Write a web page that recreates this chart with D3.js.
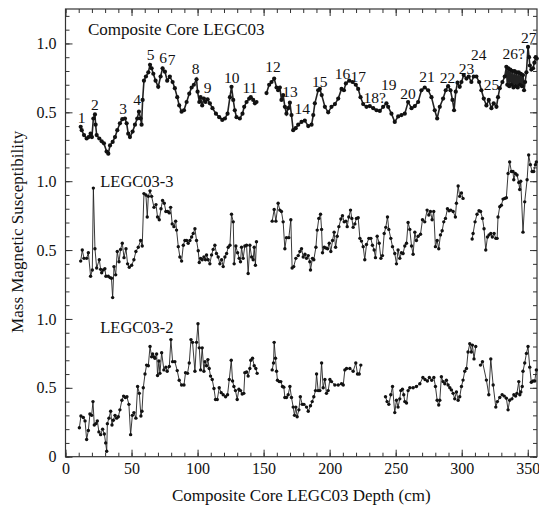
<!DOCTYPE html>
<html>
<head>
<meta charset="utf-8">
<script src="https://cdn.jsdelivr.net/npm/d3@7"></script>
<style>
  html, body { margin: 0; padding: 0; background: #fff; }
  svg { display: block; }
</style>
</head>
<body>
<svg id="chart" width="539" height="507"></svg>
<script>
// Depth (cm) and mass magnetic susceptibility; null marks a break in the record.
const compositeCore = [
  [11.5,0.395],[12.3,0.37],[14,0.335],[16,0.31],[17.5,0.32],[19,0.345],[20,0.32],[21.1,0.455],[22.3,0.485],[22.8,0.41],
  [23.6,0.335],[25.6,0.31],[27.4,0.29],[29.1,0.275],[31.1,0.215],[32.4,0.20],[33.7,0.26],[35.7,0.285],[37.5,0.32],[39.2,0.37],
  [41.2,0.42],[43,0.45],[45,0.455],[46.3,0.42],[47.5,0.345],[48.8,0.32],[50.8,0.36],[52.6,0.41],[54.3,0.455],[55.6,0.505],
  [56.9,0.455],[57.6,0.41],[58.4,0.59],[59.4,0.73],[60.9,0.76],[62.7,0.79],[64,0.845],[65.2,0.82],[66.5,0.78],[68.2,0.73],
  [70.2,0.685],[72,0.76],[73.5,0.82],[75.3,0.795],[77,0.73],[79,0.76],[81.1,0.72],[82.8,0.675],[84.6,0.61],[86.1,0.55],
  [87.9,0.505],[89.7,0.515],[91.7,0.575],[93.7,0.635],[95.5,0.68],[97.2,0.70],[99.2,0.74],[100,0.65],[101.3,0.575],[102.3,0.61],
  [103.5,0.55],[104.8,0.60],[106,0.575],[107.6,0.595],[109.3,0.565],[111.3,0.53],[113.9,0.49],[116.4,0.465],[118.7,0.445],[120.7,0.455],
  [122.7,0.49],[124.5,0.61],[125.7,0.685],[127,0.59],[128.2,0.515],[129.5,0.465],[132,0.455],[134,0.49],[135.3,0.54],[137.1,0.575],
  [139.1,0.60],[140.3,0.61],[142.1,0.59],[143.4,0.565],[144.6,0.575],
  [148,null],
  [152.2,0.64],[154.2,0.70],[156,0.72],[158,0.745],[159.8,0.68],[161,0.66],[162.3,0.68],[163.5,0.59],[164.8,0.625],[166.1,0.54],
  [167.3,0.49],[168.6,0.53],[169.9,0.57],[171.1,0.48],[172.4,0.37],[174.3,0.385],[176.2,0.41],[178.7,0.43],[181.2,0.44],[183.8,0.40],
  [186.3,0.41],[187.6,0.48],[188.8,0.565],[191.3,0.66],[192.6,0.67],[194,0.625],[196.4,0.54],[198.9,0.50],[201.4,0.54],[204,0.56],
  [206.5,0.60],[209,0.67],[210.8,0.66],[212.3,0.71],[214.8,0.73],[217.3,0.72],[219.8,0.70],[221.6,0.67],[223.4,0.61],[225.4,0.56],
  [227.9,0.54],[230.4,0.545],[233,0.53],[235.5,0.515],[238,0.51],[240.5,0.54],[243,0.565],[244.3,0.54],[246.8,0.49],[249.3,0.43],
  [251.9,0.47],[254.4,0.48],[256.9,0.49],[259.4,0.575],[262,0.53],[264.5,0.545],[267,0.575],[269.5,0.66],[272,0.68],[274.6,0.66],
  [277.1,0.61],[279.6,0.515],[281.4,0.455],[283.4,0.54],[285.9,0.60],[287.9,0.66],[289.7,0.69],[291.5,0.66],[293,0.59],[294.2,0.515],
  [295.5,0.65],[296.8,0.715],[298.5,0.685],[299.8,0.72],[301.5,0.77],[303.6,0.745],[305.3,0.76],[307.3,0.72],[309.1,0.76],[311.1,0.76],
  [313.2,0.72],[314.9,0.66],[316.7,0.60],[318.7,0.55],[320.5,0.59],[322.5,0.53],[324.2,0.565],[326.3,0.54],[327.5,0.61],[328.8,0.675],
  [330.8,0.72],[332.6,0.76],[333.8,0.83],[334.5,0.70],[335.3,0.82],[336,0.69],[336.8,0.81],[337.6,0.70],[338.4,0.80],[339.2,0.68],
  [340,0.80],[340.8,0.69],[341.6,0.79],[342.4,0.68],[343.2,0.79],[344,0.70],[344.8,0.78],[345.6,0.69],[346.4,0.77],[347.2,0.66],
  [348,0.72],[349,0.79],[350.2,0.975],[351,0.90],[351.6,0.84],[352.7,0.81],[354,0.82],[355,0.86],[356,0.90],[356.8,0.89]
];

const coreLEGC03_3 = [
  [11.5,0.42],[12.7,0.50],[14,0.44],[16,0.44],[17.3,0.48],[19,0.31],[20.3,0.355],[21.1,0.95],[22.3,0.51],[23.6,0.37],
  [25.6,0.43],[26.6,0.36],[27.4,0.335],[28.6,0.355],[29.8,0.365],[30.6,0.31],[32.4,0.31],[33.7,0.30],[34.8,0.295],[35.7,0.155],
  [36.7,0.38],[38,0.32],[39.2,0.49],[40.5,0.415],[41.7,0.505],[43,0.55],[44.3,0.445],[45.8,0.51],[47,0.40],[48.3,0.375],
  [50.1,0.39],[51.8,0.43],[53.3,0.49],[55.1,0.52],[56.9,0.57],[58.1,0.53],[59.4,0.91],[60.9,0.90],[61.9,0.74],[62.7,0.89],
  [64,0.93],[65.2,0.89],[67,0.81],[68.5,0.83],[69.7,0.74],[71,0.72],[72.3,0.80],[73.5,0.86],[74.8,0.84],[76,0.78],
  [77.3,0.78],[78.6,0.77],[79.6,0.81],[80.8,0.69],[82.1,0.67],[83.4,0.71],[84.1,0.645],[85.4,0.525],[86.6,0.45],[87.9,0.42],
  [89.2,0.535],[90.4,0.57],[91.7,0.57],[92.9,0.55],[94.2,0.57],[95.5,0.595],[96.7,0.62],[98,0.655],[99.2,0.57],[100.5,0.495],
  [101.3,0.41],[102.3,0.44],[103.5,0.43],[104.8,0.45],[106,0.43],[106.8,0.465],[108,0.43],[109.3,0.40],[110.6,0.465],[111.8,0.505],
  [113.1,0.535],[114.3,0.475],[115.6,0.45],[116.9,0.40],[118.2,0.43],[119.4,0.38],[120.7,0.45],[122,0.475],[123.2,0.52],[124.5,0.535],
  [125.7,0.76],[127,0.705],[127.7,0.40],[129,0.53],[130.3,0.48],[131.5,0.44],[132.5,0.415],[133.3,0.52],[134.5,0.44],[135.8,0.53],
  [137.1,0.535],[138.3,0.33],[139.6,0.535],[140.9,0.45],[142.1,0.43],[142.9,0.52],[143.8,0.39],[144.6,0.56],
  [150,null],
  [156.5,0.71],[158,0.795],[159.3,0.71],[161,0.84],[162.3,0.79],[163.5,0.78],[164.8,0.705],[166.1,0.51],[167.3,0.59],[169.1,0.59],
  [170.6,0.72],[171.6,0.37],[172.8,0.38],[174.4,0.44],[176.2,0.46],[177.5,0.49],[178.7,0.51],[180,0.45],[181.3,0.47],[182.5,0.44],
  [183.8,0.46],[185,0.415],[185.5,0.355],[187,0.44],[188,0.43],[189.6,0.52],[190.6,0.645],[191.8,0.73],[193.1,0.76],[193.9,0.65],
  [194.6,0.48],[195.9,0.52],[197.1,0.515],[198.4,0.51],[199.7,0.55],[200.9,0.49],[202.2,0.57],[203.4,0.63],[204.5,0.52],[205.7,0.60],
  [207,0.67],[208.5,0.725],[209.7,0.75],[211,0.705],[212.3,0.71],[213.3,0.67],[214.5,0.74],[215.8,0.79],[216.8,0.73],[217.8,0.665],
  [219.1,0.69],[220.3,0.73],[221.6,0.735],[222.9,0.585],[224.1,0.565],[225.4,0.525],[226.6,0.43],[227.9,0.54],[229.7,0.585],[231.2,0.585],
  [232.4,0.535],[233.7,0.50],[234.7,0.445],[236,0.60],[237.5,0.55],[238.8,0.44],[240,0.46],[241.3,0.62],[242.5,0.665],[243.8,0.74],
  [244.8,0.65],[246.3,0.585],[247.6,0.525],[249.3,0.475],[250.6,0.40],[251.8,0.50],[253.1,0.44],[254.4,0.48],[255.6,0.475],[256.9,0.53],
  [258.2,0.55],[259.4,0.70],[260.7,0.65],[262,0.53],[263.2,0.47],[264.5,0.63],[265.7,0.57],[267,0.60],[268.8,0.615],[270.3,0.72],
  [272,0.705],[273.8,0.79],[275.1,0.755],[276.3,0.78],[277.6,0.72],[278.8,0.78],[280.1,0.525],[281.4,0.57],[282.6,0.51],[283.9,0.61],
  [285.2,0.64],[286.4,0.705],[287.7,0.73],[289.2,0.80],[290.4,0.785],[291.7,0.79],[293.5,0.78],[295.2,0.74],[296,0.84],[297.3,0.965],
  [298.5,0.89],[299.8,0.915],[301,0.875],
  [304,null],
  [307.9,0.58],[308.6,0.62],[310.1,0.705],[311.6,0.76],[313.1,0.785],[314.3,0.78],[315.7,0.73],[316.9,0.655],[318.2,0.50],[319.5,0.595],
  [320.7,0.61],[322,0.62],[323.2,0.595],[324.5,0.62],[325.8,0.585],[326.8,0.585],[327.5,0.74],[328.8,0.815],[330,0.825],[331.3,0.87],
  [332.5,0.875],[333.8,0.88],[335.1,1.056],[336.3,1.14],[337.6,1.07],[338.8,1.07],[339.4,1.01],[340.6,1.056],[341.9,1.045],[343.2,0.99],
  [343.9,0.94],[344.7,1.0],[346.4,0.63],[347.7,0.85],[349.5,1.01],[350.7,1.19],[352,1.12],[353.3,1.07],[354.5,1.07],[355.8,1.12],
  [356.5,1.14]
];

const coreLEGC03_2 = [
  [10.5,0.21],[11.7,0.295],[13.5,0.285],[14.8,0.26],[16,0.125],[17.3,0.19],[18.5,0.31],[19.8,0.30],[20.8,0.40],[21.8,0.23],
  [23,0.24],[24.1,0.26],[25.3,0.18],[26.6,0.16],[28.1,0.20],[29.4,0.165],[30.4,0.10],[31.2,0.04],[31.7,0.24],[32.9,0.28],
  [34.2,0.33],[35.2,0.23],[36.2,0.265],[37.5,0.30],[38.7,0.28],[40,0.29],[41.2,0.34],[42.7,0.41],[44,0.44],[45.3,0.43],
  [46.5,0.435],[48,0.38],[49.3,0.16],[50.6,0.30],[51.8,0.32],[53.3,0.28],[54.6,0.51],[55.9,0.46],[57.1,0.295],[57.9,0.33],
  [58.9,0.50],[60.2,0.60],[61.4,0.665],[62.7,0.66],[64,0.80],[65.2,0.725],[66,0.745],[67,0.725],[67.7,0.715],[69,0.745],
  [69.7,0.59],[70.7,0.695],[71.5,0.605],[72.8,0.755],[74.5,0.63],[76,0.65],[77,0.62],[78.6,0.655],[79.8,0.85],[81.1,0.69],
  [82.8,0.69],[84.6,0.625],[86.1,0.555],[87.9,0.52],[89.7,0.52],[90.9,0.61],[92.4,0.605],[93.7,0.68],[95,0.85],[96.2,0.83],
  [98,0.62],[99.2,0.83],[100.3,0.965],[101.3,0.79],[102.3,0.63],[103.5,0.79],[104.8,0.62],[105.6,0.69],[106.8,0.66],[107.8,0.705],
  [108.8,0.64],[109.8,0.585],[111.1,0.56],[112.4,0.495],[113.6,0.415],[114.9,0.415],[116.4,0.50],[117.9,0.465],[119.4,0.45],[121.2,0.435],
  [122.7,0.45],[124,0.56],[125.5,0.70],[126.5,0.55],[127.5,0.51],[128.7,0.48],[130,0.415],[131.3,0.49],[132.5,0.48],[133.8,0.455],
  [135,0.46],[135.8,0.61],[137.1,0.615],[138.3,0.585],[139.6,0.64],[140.3,0.70],[141.6,0.715],[142.9,0.66],[144.1,0.64],[145.1,0.605],
  [150,null],
  [156.5,0.63],[157.5,0.68],[158,0.83],[159,0.715],[159.8,0.62],[160.5,0.555],[161.8,0.545],[163,0.545],[164.3,0.51],[165.3,0.505],
  [166.1,0.43],[167.3,0.43],[168.6,0.45],[169.9,0.51],[171.1,0.43],[172.4,0.36],[173.4,0.30],[174.4,0.36],[175.4,0.29],[176.7,0.34],
  [177.8,0.435],[179.2,0.38],[180.5,0.38],[182.5,0.36],[183.8,0.33],[185.5,0.37],[186.8,0.40],[188,0.435],[189.3,0.48],[190.1,0.60],
  [191.3,0.48],[192.6,0.48],[193.9,0.68],[195.1,0.50],[196.4,0.56],[197.6,0.46],[198.9,0.48],[200.2,0.56],[201.4,0.545],[203.9,0.52],
  [206.5,0.52],[209,0.53],[210.3,0.52],[211.5,0.63],[212.8,0.64],[215.3,0.64],[217.8,0.62],[219.8,0.68],[221.1,0.60],[222.4,0.60],
  [223.6,0.665],
  [233,null],
  [242.3,0.435],[243.5,0.40],[244.8,0.38],[246.3,0.45],[247.6,0.51],[249.3,0.32],[250.6,0.41],[251.8,0.36],[253.1,0.42],[253.9,0.48],
  [255.1,0.49],[256.1,0.45],[256.9,0.40],[258.2,0.39],[259.4,0.48],[260.7,0.50],[263.2,0.50],[265.7,0.51],[268.3,0.53],[270.6,0.575],
  [272.2,0.56],[274,0.55],[275.5,0.575],[277.3,0.555],[278.9,0.575],[280.1,0.51],[281.4,0.41],[282.6,0.375],[283.4,0.41],[284.6,0.58],
  [285.9,0.545],[287.2,0.53],[288.4,0.555],[289.7,0.52],[291,0.50],[292.2,0.485],[293.5,0.46],[294.7,0.42],[296,0.47],[297.3,0.41],
  [298.5,0.435],[299.8,0.51],[301,0.556],[302.3,0.62],[303.6,0.64],[304.8,0.76],[306.1,0.82],[307.3,0.76],[308.1,0.81],[309.3,0.71],
  [310.6,0.80],
  [312.5,null],
  [314.2,0.665],[315.7,0.69],[318.7,0.556],[320.5,0.45],[322,0.71],[323.8,0.52],[325.8,0.36],[327,0.40],[328.8,0.43],[330.6,0.45],
  [332.2,0.44],[333.8,0.425],[335.1,0.34],[336.3,0.41],[338,0.42],[339.5,0.45],[340.8,0.44],[341.8,0.46],[343.2,0.545],[344,0.45],
  [344.8,0.47],[345.8,0.51],[346.4,0.62],[347.7,0.68],[349,0.75],[350.2,0.80],[351.5,0.65],[352.7,0.54],[354,0.55],[355.3,0.55],
  [356.5,0.63]
];

const seriesLabels = ["Composite Core LEGC03", "LEGC03-3", "LEGC03-2"];
const seriesOffsets = [2, 1, 0];   // each core is stacked one unit above the next

// Numbered susceptibility peaks on the composite record: [label, depth, value at text baseline]
const peakLabels = [
  ["1",12.3,0.42],["2",22.3,0.52],["3",43.7,0.49],["4",54.3,0.55],["5",64.5,0.88],["6",74,0.855],["7",80.4,0.84],
  ["8",98.5,0.78],["9",107.6,0.64],["10",125.8,0.71],["11",139.6,0.64],["12",157.2,0.79],["13",169.9,0.61],
  ["14",179.2,0.485],["15",192.6,0.685],["16",209.7,0.74],["17",221.6,0.72],["18?",234.2,0.57],["19",244.8,0.66],
  ["20",259.4,0.60],["21",273.8,0.72],["22",289.2,0.71],["23",303.6,0.78],["24",312.9,0.88],["25",322.5,0.66],
  ["26?",339.4,0.89],["27",350.7,1.0]
];

const xTickMajor = [0, 50, 100, 150, 200, 250, 300, 350];
const yTickLabels = ["0", "0.5", "1.0", "0.5", "1.0", "0.5", "1.0"];

const svg = d3.select("#chart");
const L = 65.5, R = 537, T = 9, B = 456.7;

const x = d3.scaleLinear().domain([0, 357]).range([L, R]);
const y = d3.scaleLinear().domain([0, 3.25]).range([B, T]);

const axisColor = "#333";
const fontStack = '"Liberation Serif", "Times New Roman", serif';

// Axes with inward ticks on all four sides
const xMinor = d3.range(0, 357, 10);
const yMinor = d3.range(0, 33, 1).map(v => v / 10);
const yMajor = d3.range(0, 7).map(v => v / 2);

function styleAxis(g) {
  g.attr("font-family", null);
  g.select(".domain").remove();
  g.selectAll("line").attr("stroke", axisColor).attr("stroke-width", 1);
  g.selectAll("text")
    .style("font-family", fontStack)
    .style("font-size", "16px")
    .attr("fill", "#111");
}

svg.append("g").attr("transform", `translate(0,${B})`)
  .call(d3.axisBottom(x).tickValues(xMinor).tickSize(-4).tickFormat(""))
  .call(styleAxis);
svg.append("g").attr("transform", `translate(0,${B})`)
  .call(d3.axisBottom(x).tickValues(xTickMajor).tickSize(-7).tickFormat(d3.format("d")))
  .call(styleAxis)
  .call(g => g.selectAll("text").attr("dy", "0.71em").attr("y", 6));
svg.append("g").attr("transform", `translate(0,${T})`)
  .call(d3.axisTop(x).tickValues(xMinor).tickSize(-4).tickFormat(""))
  .call(styleAxis);
svg.append("g").attr("transform", `translate(0,${T})`)
  .call(d3.axisTop(x).tickValues(xTickMajor).tickSize(-7).tickFormat(""))
  .call(styleAxis);

svg.append("g").attr("transform", `translate(${L},0)`)
  .call(d3.axisLeft(y).tickValues(yMinor).tickSize(-4).tickFormat(""))
  .call(styleAxis);
svg.append("g").attr("transform", `translate(${L},0)`)
  .call(d3.axisLeft(y).tickValues(yMajor).tickSize(-7).tickPadding(9)
    .tickFormat((d, i) => yTickLabels[i]))
  .call(styleAxis);
svg.append("g").attr("transform", `translate(${R},0)`)
  .call(d3.axisRight(y).tickValues(yMinor).tickSize(-4).tickFormat(""))
  .call(styleAxis);
svg.append("g").attr("transform", `translate(${R},0)`)
  .call(d3.axisRight(y).tickValues(yMajor).tickSize(-7).tickFormat(""))
  .call(styleAxis);

// Plot frame
svg.append("rect")
  .attr("x", L).attr("y", T).attr("width", R - L).attr("height", B - T)
  .attr("fill", "none").attr("stroke", axisColor).attr("stroke-width", 1.2);

// Series: connecting lines and point markers
const seriesData = [compositeCore, coreLEGC03_3, coreLEGC03_2];
const plot = svg.append("g");

seriesData.forEach((data, i) => {
  const off = seriesOffsets[i];
  const line = d3.line()
    .defined(d => d[1] !== null)
    .x(d => x(d[0]))
    .y(d => y(d[1] + off));
  plot.append("path")
    .datum(data)
    .attr("d", line)
    .attr("fill", "none")
    .attr("stroke", "#222")
    .attr("stroke-width", i === 0 ? 1.6 : 0.9);
  plot.append("g").selectAll("circle")
    .data(data.filter(d => d[1] !== null))
    .join("circle")
    .attr("cx", d => x(d[0]))
    .attr("cy", d => y(d[1] + off))
    .attr("r", i === 0 ? 2.1 : 1.7)
    .attr("fill", "#111");
});

function serifText(sel, size) {
  return sel.style("font-family", fontStack).style("font-size", size + "px").attr("fill", "#111");
}

// Core names
const nameAnchors = [[17.0, 3.06], [26.3, 1.96], [26.3, 0.90]];
seriesLabels.forEach((t, i) => {
  svg.append("text")
    .attr("x", x(nameAnchors[i][0]))
    .attr("y", y(nameAnchors[i][1]))
    .call(serifText, i === 0 ? 17 : 16.5)
    .text(t);
});

// Peak numbers
svg.append("g").selectAll("text")
  .data(peakLabels)
  .join("text")
  .attr("x", d => x(d[1]))
  .attr("y", d => y(d[2] + 2))
  .attr("text-anchor", "middle")
  .call(serifText, 15.5)
  .text(d => d[0]);

// Axis titles
svg.append("text")
  .attr("x", (L + R) / 2).attr("y", 501)
  .attr("text-anchor", "middle")
  .call(serifText, 17)
  .text("Composite Core LEGC03 Depth (cm)");
svg.append("text")
  .attr("transform", `translate(23,${(T + B) / 2 - 1}) rotate(-90)`)
  .attr("text-anchor", "middle")
  .call(serifText, 17)
  .text("Mass Magnetic Susceptibility");
</script>
</body>
</html>
